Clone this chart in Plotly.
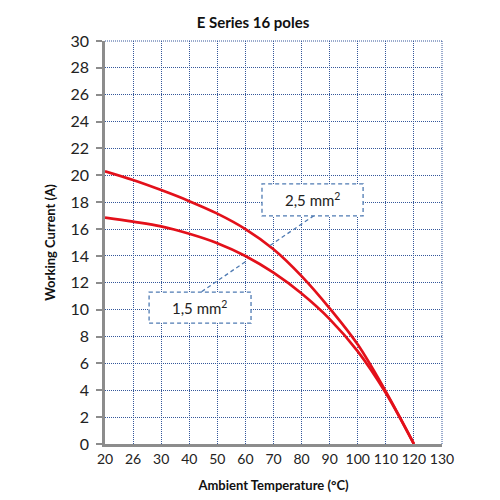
import plotly.graph_objects as go

# Categories (evenly spaced x-axis labels)
temps = ["20", "26", "30", "40", "50", "60", "70", "80", "90", "100", "110", "120", "130"]
curve_x = ["20", "26", "30", "40", "50", "60", "70", "80", "90", "100", "110", "120"]
current_25 = [20.3, 19.65, 18.9, 18.08, 17.15, 16.0, 14.5, 12.5, 10.1, 7.4, 3.9, 0.0]
current_15 = [16.85, 16.55, 16.2, 15.65, 14.95, 14.0, 12.75, 11.2, 9.3, 6.9, 3.8, 0.0]
y_ticks = list(range(0, 31, 2))

red = "#e3101a"
grid = "#34579a"
box = "#4f7bb3"
font = "Lato"
griddash = "1px,1px"

fig = go.Figure()
for name, ys in [("2,5 mm²", current_25), ("1,5 mm²", current_15)]:
    fig.add_trace(go.Scatter(x=curve_x, y=ys, mode="lines", name=name,
                             line=dict(color=red, width=2.7, shape="spline", smoothing=1.0)))

# label boxes (dashed) and leader lines, in axis coordinates (category index / current)
shapes = [
    dict(type="line", xref="x", yref="y", x0=7.44, y0=17.0, x1=5.8, y1=14.67),
    dict(type="line", xref="x", yref="y", x0=3.44, y0=11.34, x1=5.09, y1=13.7),
    dict(type="rect", xref="x", yref="y", x0=5.59, x1=9.19, y0=16.98, y1=19.36),
    dict(type="rect", xref="x", yref="y", x0=1.57, x1=5.2, y0=9.0, y1=11.3),
]
for s in shapes:
    s["line"] = dict(color=box, width=1.3, dash="4px,3px")
    if s["type"] == "rect":
        s["fillcolor"] = "white"
    s["layer"] = "above"
fig.update_layout(shapes=shapes)

fig.add_annotation(x=7.39, y=18.2, xref="x", yref="y", text="2,5 mm<sup>2</sup>", showarrow=False,
                   font=dict(family=font, size=15, color="#222"))
fig.add_annotation(x=3.38, y=10.15, xref="x", yref="y", text="1,5 mm<sup>2</sup>", showarrow=False,
                   font=dict(family=font, size=15, color="#222"))

fig.update_layout(
    width=500, height=500,
    margin=dict(l=105, r=58, t=41, b=56),
    paper_bgcolor="white", plot_bgcolor="white",
    showlegend=False,
    title=dict(text="<b>E Series 16 poles</b>", x=0.506, xanchor="center", y=0.955, yanchor="middle",
               font=dict(family=font, size=15, color="#111")),
    font=dict(family=font, color="#222"),
)
fig.update_xaxes(
    type="category", categoryorder="array", categoryarray=temps,
    tickvals=temps, ticktext=temps,
    range=[0, 12], automargin=False,
    showgrid=True, gridcolor=grid, griddash=griddash, gridwidth=1,
    showline=True, linecolor="#8c8c8c", linewidth=2.5,
    ticks="", tickfont=dict(family=font, size=14, color="#222"),
    title=dict(text="<b>Ambient Temperature (°C)</b>", font=dict(family=font, size=13, color="#111"), standoff=16),
    zeroline=False, mirror=False,
)
fig.update_yaxes(
    range=[0, 30], tickvals=y_ticks, automargin=False,
    showgrid=True, gridcolor=grid, griddash=griddash, gridwidth=1,
    showline=True, linecolor="#8c8c8c", linewidth=2.5,
    ticks="outside", ticklen=6, tickcolor="#8c8c8c", tickwidth=2,
    ticklabelstandoff=4,
    tickfont=dict(family=font, size=16, color="#222"),
    title=dict(text="<b>Working Current (A)</b>", font=dict(family=font, size=13, color="#111"), standoff=12),
    zeroline=False,
)

# right/top dotted borders as grid-like lines
fig.add_shape(type="line", xref="paper", yref="paper", x0=1, x1=1, y0=0, y1=1,
              line=dict(color=grid, width=1, dash=griddash), layer="below")
fig.add_shape(type="line", xref="paper", yref="paper", x0=0, x1=1, y0=1, y1=1,
              line=dict(color=grid, width=1, dash=griddash), layer="below")

fig.write_html("out.html")
